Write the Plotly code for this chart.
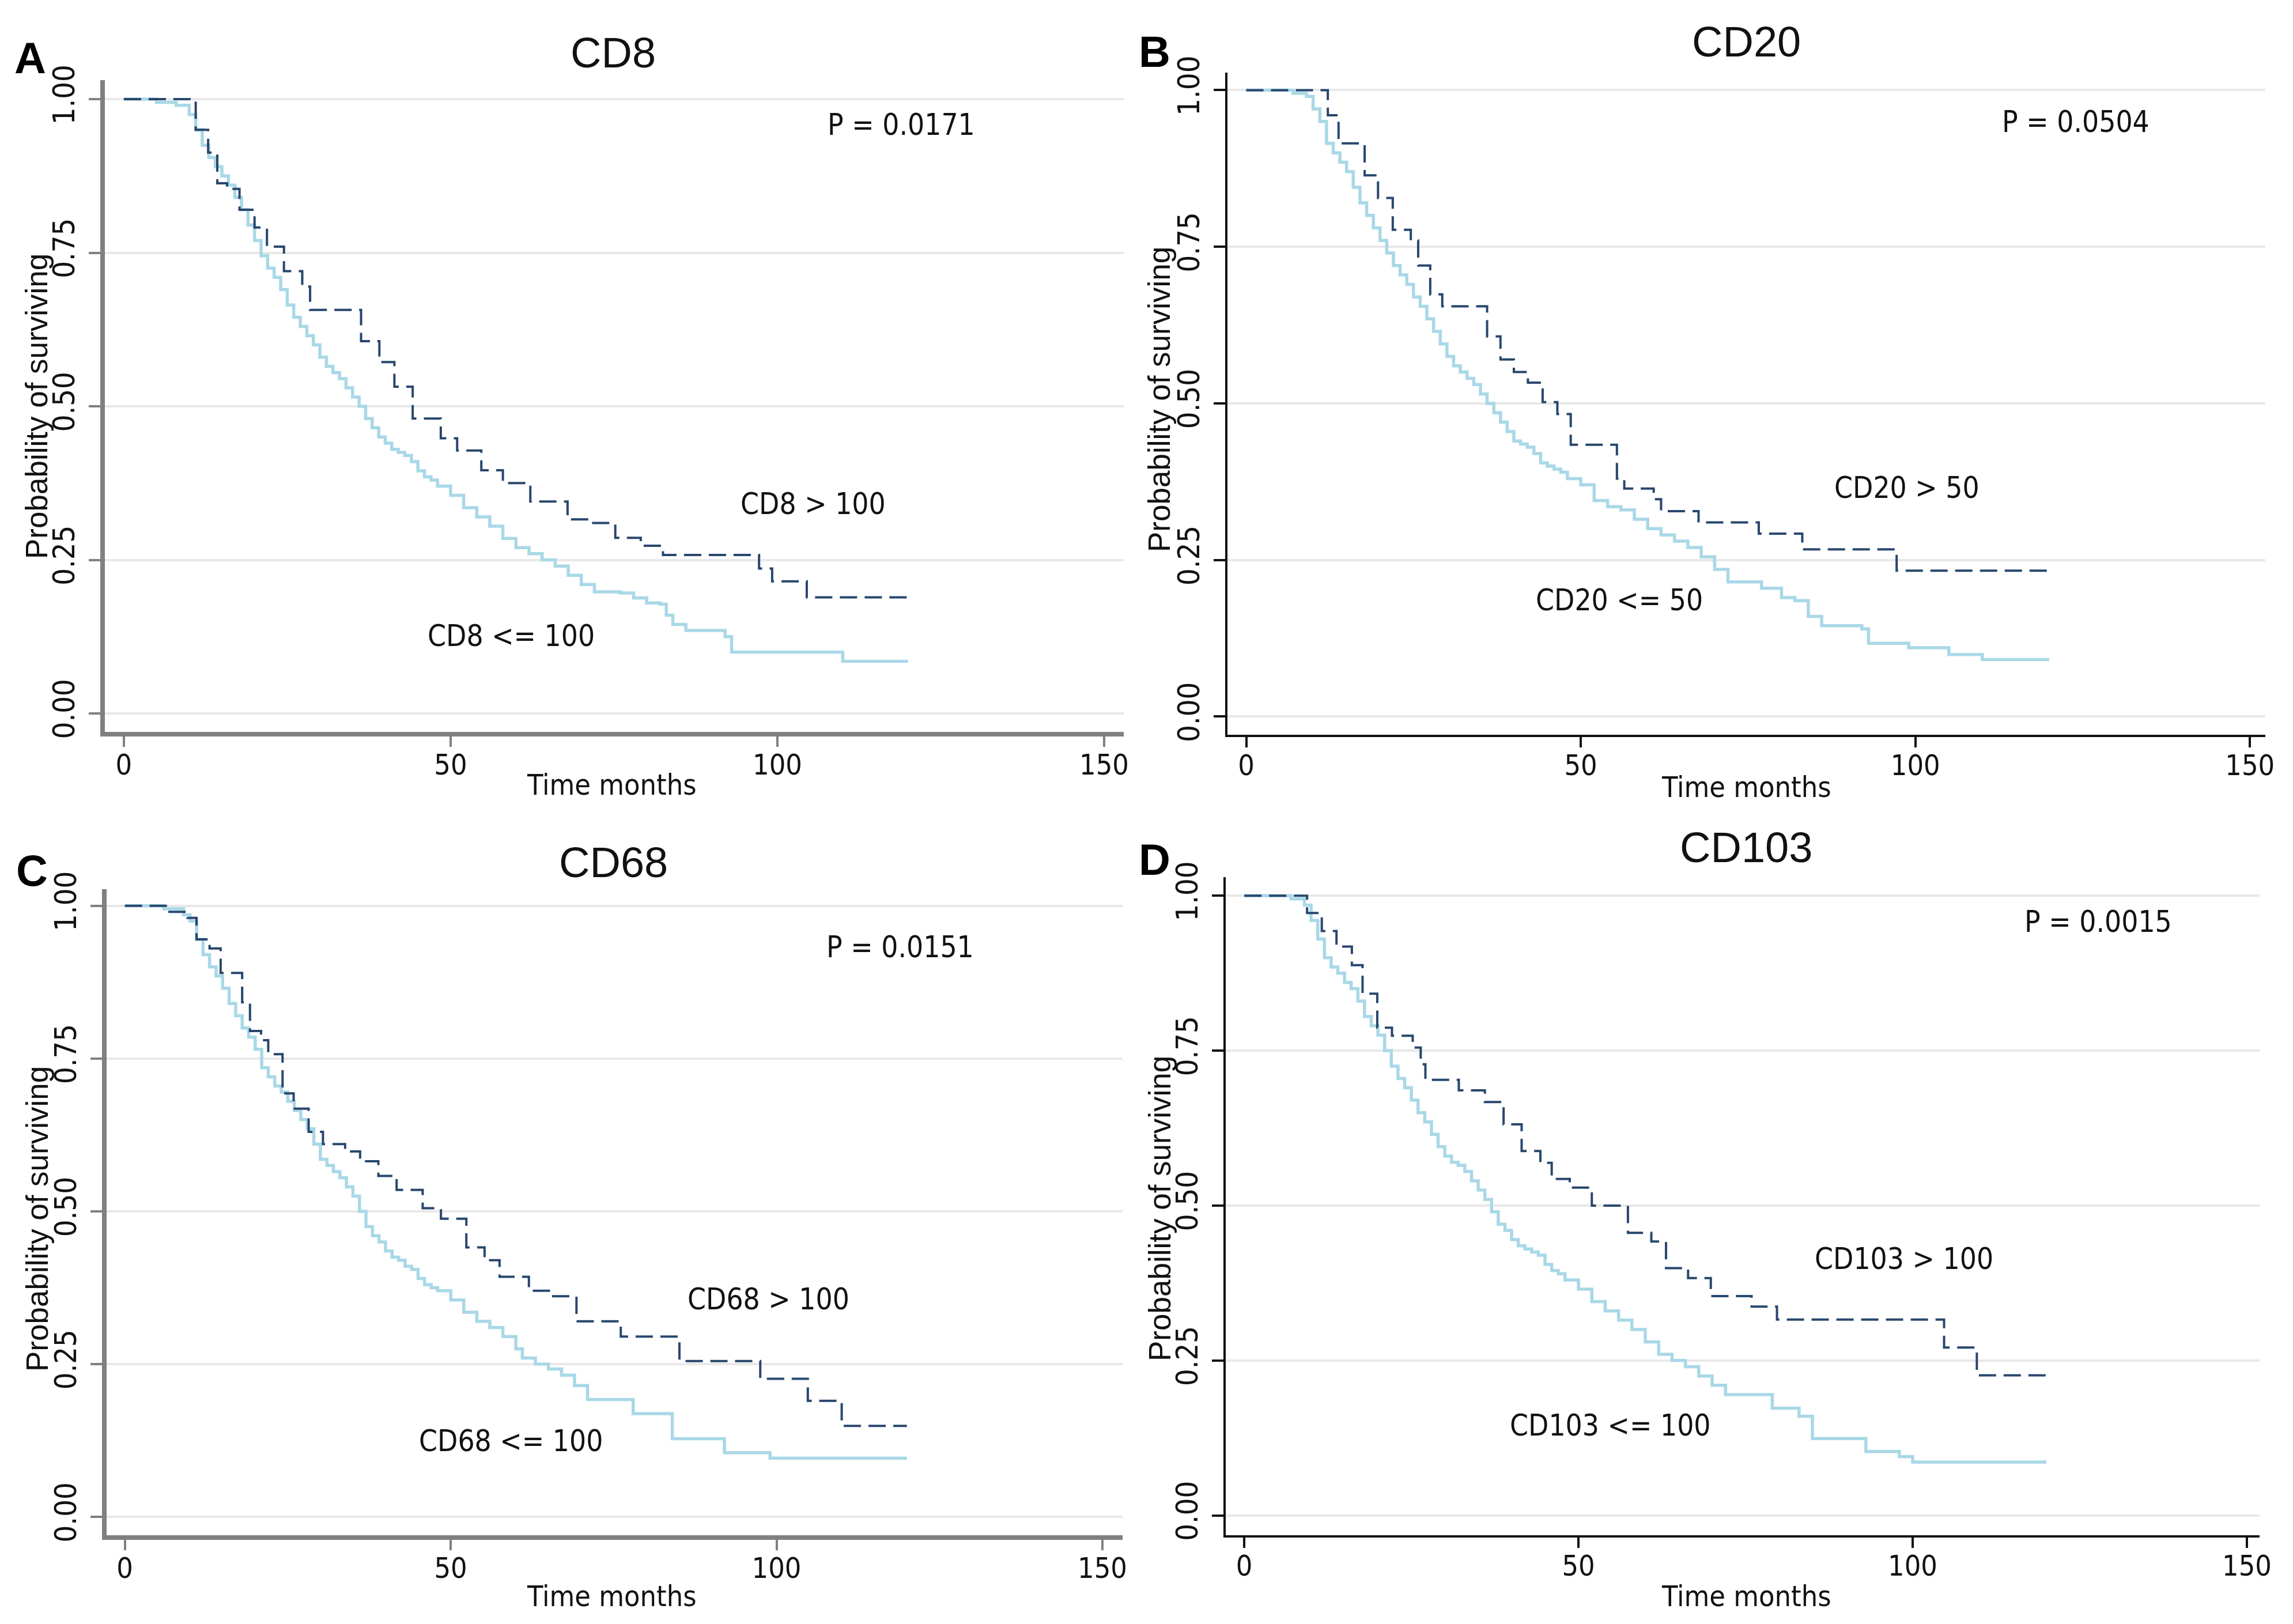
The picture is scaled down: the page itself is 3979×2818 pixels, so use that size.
import plotly.graph_objects as go

# ---------------- data ----------------
x_ticks = [0, 50, 100, 150]
y_ticks = [0, 0.25, 0.5, 0.75, 1.0]
y_tick_labels = ["0.00", "0.25", "0.50", "0.75", "1.00"]

panel_titles = ["CD8", "CD20", "CD68", "CD103"]
panel_letters = ["A", "B", "C", "D"]
p_values = ["P = 0.0171", "P = 0.0504", "P = 0.0151", "P = 0.0015"]
high_labels = ["CD8 > 100", "CD20 > 50", "CD68 > 100", "CD103 > 100"]
low_labels = ["CD8 <= 100", "CD20 <= 50", "CD68 <= 100", "CD103 <= 100"]

# CD8
cd8_low_t = [0, 5, 8, 10, 11, 12, 13, 14, 15, 16, 17, 18, 19, 20, 21, 22, 23, 24, 25, 26, 27, 28, 29,
             30, 31, 32, 33, 34, 35, 36, 37, 38, 39, 40, 41, 42, 43, 44, 45, 46, 47, 48,
             50, 52, 54, 56, 58, 60, 62, 64, 66, 68, 70, 72, 76, 78, 80, 82, 83, 84, 86, 92, 93, 110, 120]
cd8_low_s = [1.0, 0.995, 0.99, 0.975, 0.95, 0.925, 0.905, 0.89, 0.875, 0.86, 0.84, 0.82, 0.795, 0.77,
             0.745, 0.725, 0.71, 0.69, 0.665, 0.645, 0.63, 0.615, 0.6,
             0.58, 0.565, 0.555, 0.545, 0.53, 0.515, 0.5, 0.48, 0.465, 0.45,
             0.44, 0.43, 0.425, 0.42, 0.41, 0.395, 0.385, 0.38, 0.37,
             0.355, 0.335, 0.32, 0.305, 0.285, 0.27, 0.26, 0.25, 0.24, 0.225, 0.21, 0.198,
             0.196, 0.188, 0.18, 0.178, 0.16, 0.145, 0.135, 0.125, 0.1, 0.085, 0.085]
cd8_high_t = [0, 11.0, 12.9, 14.3, 15.8, 17.7, 20.0, 21.9, 24.5, 27.3, 28.5, 36.3, 39.1, 41.4, 44.2,
              48.5, 51.0, 54.7, 58.0, 62.2, 67.9, 71.3, 75.2, 79.1, 82.5, 97.2, 99.2, 104.5, 120]
cd8_high_s = [1.0, 0.95, 0.913, 0.863, 0.854, 0.82, 0.791, 0.76, 0.72, 0.695, 0.657, 0.606, 0.572,
              0.532, 0.48, 0.448, 0.428, 0.396, 0.375, 0.345, 0.316, 0.31, 0.286, 0.273, 0.258,
              0.236, 0.215, 0.189, 0.189]

# CD20
cd20_low_t = [0, 7, 9, 10, 11, 12, 13, 14, 15, 16, 17, 18, 19, 20, 21, 22, 23, 24, 25, 26, 27, 28, 29,
              30, 31, 32, 33, 34, 35, 36, 37, 38, 39, 40, 41, 42, 43, 44, 45, 46, 47, 48,
              50, 52, 54, 56, 58, 60, 62, 64, 66, 68, 70, 72, 77, 80, 82, 84, 86, 92, 93, 99, 105, 110, 120]
cd20_low_s = [1.0, 0.995, 0.99, 0.97, 0.95, 0.915, 0.9, 0.885, 0.87, 0.845, 0.82, 0.8, 0.78, 0.76,
              0.74, 0.72, 0.705, 0.69, 0.67, 0.655, 0.635, 0.615, 0.595,
              0.575, 0.56, 0.55, 0.54, 0.53, 0.515, 0.5, 0.485, 0.47, 0.455,
              0.44, 0.435, 0.43, 0.42, 0.405, 0.4, 0.395, 0.39, 0.38,
              0.37, 0.345, 0.335, 0.33, 0.315, 0.3, 0.29, 0.28, 0.27, 0.255, 0.235, 0.215,
              0.205, 0.19, 0.185, 0.16, 0.145, 0.14, 0.117, 0.11, 0.099, 0.091, 0.091]
cd20_high_t = [0, 12.2, 13.8, 17.7, 19.7, 21.9, 24.6, 25.7, 27.5, 29.3, 36, 38, 40, 42.1, 44.3, 46.5,
               48.5, 55.4, 56.5, 60.9, 62, 67.6, 76.6, 83.1, 97.2, 120]
cd20_high_s = [1.0, 0.96, 0.915, 0.864, 0.828, 0.777, 0.76, 0.72, 0.674, 0.655, 0.607, 0.57, 0.55,
               0.533, 0.502, 0.483, 0.434, 0.38, 0.364, 0.347, 0.328, 0.31, 0.292, 0.267, 0.233, 0.233]

# CD68
cd68_low_t = [0, 6, 9, 10, 11, 12, 13, 14, 15, 16, 17, 18, 19, 20, 21, 22, 23, 24, 25, 26, 27, 28, 29,
              30, 31, 32, 33, 34, 35, 36, 37, 38, 39, 40, 41, 42, 43, 44, 45, 46, 47, 48,
              50, 52, 54, 56, 58, 60, 61, 63, 65, 67, 69, 71, 78, 84, 92, 99, 120]
cd68_low_s = [1.0, 0.995, 0.985, 0.975, 0.945, 0.92, 0.9, 0.885, 0.865, 0.84, 0.82, 0.8, 0.785, 0.765,
              0.735, 0.72, 0.705, 0.695, 0.68, 0.665, 0.65, 0.635, 0.61,
              0.585, 0.575, 0.565, 0.555, 0.54, 0.525, 0.5, 0.475, 0.46, 0.45,
              0.435, 0.425, 0.42, 0.41, 0.405, 0.39, 0.38, 0.375, 0.37,
              0.355, 0.335, 0.32, 0.31, 0.295, 0.275, 0.26, 0.25, 0.242, 0.232, 0.215, 0.192,
              0.169, 0.128, 0.105, 0.096, 0.096]
cd68_high_t = [0, 6.5, 9.6, 11, 13, 14.7, 18, 19.2, 20.9, 22, 24.2, 25.9, 28.2, 30.4, 33.8, 36.1, 38.9,
               41.7, 45.7, 48.5, 52.4, 55.2, 57.5, 62, 65.4, 69.3, 76.1, 85.1, 97.5, 104.8, 110, 120]
cd68_high_s = [1.0, 0.99, 0.98, 0.945, 0.93, 0.89, 0.842, 0.795, 0.78, 0.757, 0.693, 0.668, 0.63, 0.61,
               0.598, 0.582, 0.558, 0.535, 0.505, 0.488, 0.441, 0.42, 0.393, 0.37, 0.361, 0.32, 0.295,
               0.255, 0.226, 0.19, 0.149, 0.149]

# CD103
cd103_low_t = [0, 7, 9, 10, 11, 12, 13, 14, 15, 16, 17, 18, 19, 20, 21, 22, 23, 24, 25, 26, 27, 28, 29,
               30, 31, 32, 33, 34, 35, 36, 37, 38, 39, 40, 41, 42, 43, 44, 45, 46, 47, 48,
               50, 52, 54, 56, 58, 60, 62, 64, 66, 68, 70, 72, 79, 83, 85, 93, 98, 100, 120]
cd103_low_s = [1.0, 0.995, 0.985, 0.96, 0.93, 0.9, 0.885, 0.875, 0.86, 0.85, 0.83, 0.805, 0.79, 0.775,
               0.75, 0.725, 0.705, 0.69, 0.67, 0.65, 0.635, 0.615, 0.595,
               0.58, 0.57, 0.565, 0.555, 0.54, 0.525, 0.51, 0.49, 0.47, 0.46,
               0.445, 0.435, 0.43, 0.425, 0.42, 0.405, 0.395, 0.39, 0.38,
               0.365, 0.345, 0.33, 0.315, 0.3, 0.28, 0.26, 0.25, 0.24, 0.225, 0.21, 0.195,
               0.173, 0.16, 0.124, 0.103, 0.095, 0.086, 0.086]
cd103_high_t = [0, 9.4, 11.6, 13.8, 16.1, 17.7, 19.9, 22.1, 25.2, 26.4, 27.1, 32.1, 36, 38.8, 41.5, 44.3,
                46, 48.7, 52, 57.4, 60.9, 63.1, 66.4, 69.8, 75.9, 79.7, 104.7, 109.6, 120]
cd103_high_s = [1.0, 0.972, 0.943, 0.918, 0.888, 0.842, 0.787, 0.774, 0.755, 0.728, 0.703, 0.686, 0.667,
                0.631, 0.588, 0.569, 0.543, 0.529, 0.5, 0.456, 0.442, 0.399, 0.383, 0.354, 0.337, 0.316,
                0.271, 0.226, 0.226]

low_series = [(cd8_low_t, cd8_low_s), (cd20_low_t, cd20_low_s), (cd68_low_t, cd68_low_s), (cd103_low_t, cd103_low_s)]
high_series = [(cd8_high_t, cd8_high_s), (cd20_high_t, cd20_high_s), (cd68_high_t, cd68_high_s), (cd103_high_t, cd103_high_s)]

# label anchor positions (data coords): p-value, high label, low label
p_pos = [(119, 0.958), (124, 0.949), (119, 0.932), (127.8, 0.958)]
high_pos = [(105.5, 0.341), (98.7, 0.365), (98.8, 0.356), (98.7, 0.414)]
low_pos = [(59.3, 0.126), (55.8, 0.186), (59.2, 0.124), (54.8, 0.145)]

# ---------------- layout/styling ----------------
W, H = 3979, 2818
OFF = 8  # page body margin compensation (px)
NARROW = "Liberation Sans Narrow, Arial Narrow, DejaVu Sans Condensed, sans-serif"
REG = "Liberation Sans, Arial, sans-serif"
LIGHT = "#a9d8e7"
DARK = "#28476d"

layout_cfg = [
    dict(xdom=[182, 1950], xr=[-2.9, 153], ydom=[1270, 139], yr=[-0.03, 1.031], lc="#808080", lw=8,
         title=(1064, 92), letter=(52, 100), xt=(1061, 1362), yt=(64, 705)),
    dict(xdom=[2130, 3931], xr=[-2.8, 152.3], ydom=[1275, 126], yr=[-0.029, 1.028], lc="#111111", lw=4,
         title=(3030, 72), letter=(2003, 90), xt=(3030, 1366), yt=(2012, 693)),
    dict(xdom=[185, 1948], xr=[-2.8, 153.1], ydom=[2664, 1543], yr=[-0.03, 1.027], lc="#808080", lw=8,
         title=(1064, 1496), letter=(55, 1510), xt=(1061, 2770), yt=(64, 2115)),
    dict(xdom=[2127, 3921], xr=[-2.77, 151.9], ydom=[2664, 1522], yr=[-0.032, 1.030], lc="#111111", lw=4,
         title=(3030, 1471), letter=(2003, 1492), xt=(3030, 2770), yt=(2012, 2097)),
]


def px_x(v):
    return (v - OFF) / W


def px_y(v):
    return 1 - (v - OFF) / H


fig = go.Figure()
annotations = []
layout_axes = {}

for i in range(4):
    cfg = layout_cfg[i]
    sfx = "" if i == 0 else str(i + 1)
    xa, ya = "x" + sfx, "y" + sfx
    lt, ls = low_series[i]
    ht, hs = high_series[i]
    fig.add_trace(go.Scatter(x=lt, y=ls, mode="lines", xaxis=xa, yaxis=ya, showlegend=False,
                             line=dict(shape="hv", color=LIGHT, width=5.5), hoverinfo="skip"))
    fig.add_trace(go.Scatter(x=ht, y=hs, mode="lines", xaxis=xa, yaxis=ya, showlegend=False,
                             line=dict(shape="hv", color=DARK, width=4, dash="30px,13px"), hoverinfo="skip"))

    layout_axes["xaxis" + sfx] = dict(
        domain=[px_x(cfg["xdom"][0]), px_x(cfg["xdom"][1])], range=cfg["xr"], anchor=ya, automargin=False,
        tickmode="array", tickvals=x_ticks, ticktext=[str(v) for v in x_ticks],
        ticks="outside", ticklen=18, tickwidth=4, tickcolor=cfg["lc"], ticklabelstandoff=-12,
        showline=True, linecolor=cfg["lc"], linewidth=cfg["lw"], showgrid=False, zeroline=False,
        tickfont=dict(family=NARROW, size=50, color="#111111"), fixedrange=True,
    )
    layout_axes["yaxis" + sfx] = dict(
        domain=[px_y(cfg["ydom"][0]), px_y(cfg["ydom"][1])], range=cfg["yr"], anchor=xa, automargin=False,
        tickmode="array", tickvals=y_ticks, ticktext=y_tick_labels, tickangle=-90,
        ticks="outside", ticklen=20, tickwidth=4, tickcolor=cfg["lc"], ticklabelstandoff=4,
        showline=True, linecolor=cfg["lc"], linewidth=cfg["lw"],
        showgrid=True, gridcolor="#e8e8e8", gridwidth=4, zeroline=False,
        tickfont=dict(family=NARROW, size=52, color="#111111"), fixedrange=True,
    )

    annotations.append(dict(text=panel_titles[i], x=px_x(cfg["title"][0]), y=px_y(cfg["title"][1]),
                            xref="paper", yref="paper", showarrow=False, xanchor="center", yanchor="middle",
                            font=dict(family=REG, size=74, color="#111111")))
    annotations.append(dict(text="<b>" + panel_letters[i] + "</b>", x=px_x(cfg["letter"][0]),
                            y=px_y(cfg["letter"][1]), xref="paper", yref="paper", showarrow=False,
                            xanchor="center", yanchor="middle", font=dict(family=REG, size=76, color="#000000")))
    annotations.append(dict(text="Time months", x=px_x(cfg["xt"][0]), y=px_y(cfg["xt"][1]),
                            xref="paper", yref="paper", showarrow=False, xanchor="center", yanchor="middle",
                            font=dict(family=NARROW, size=50, color="#111111")))
    annotations.append(dict(text="Probability of surviving", x=px_x(cfg["yt"][0]), y=px_y(cfg["yt"][1]),
                            xref="paper", yref="paper", showarrow=False, xanchor="center", yanchor="middle",
                            textangle=-90, font=dict(family=REG, size=53, color="#111111")))
    for txt, pos in ((p_values[i], p_pos[i]), (high_labels[i], high_pos[i]), (low_labels[i], low_pos[i])):
        annotations.append(dict(text=txt.replace("<", "&lt;").replace(">", "&gt;"), x=pos[0], y=pos[1],
                                xref=xa, yref=ya, showarrow=False, xanchor="center", yanchor="middle",
                                font=dict(family=NARROW, size=51, color="#111111")))

fig.update_layout(
    width=W, height=H, margin=dict(l=0, r=0, t=0, b=0),
    paper_bgcolor="white", plot_bgcolor="white",
    annotations=annotations, showlegend=False, **layout_axes,
)

fig.write_html("out.html")
